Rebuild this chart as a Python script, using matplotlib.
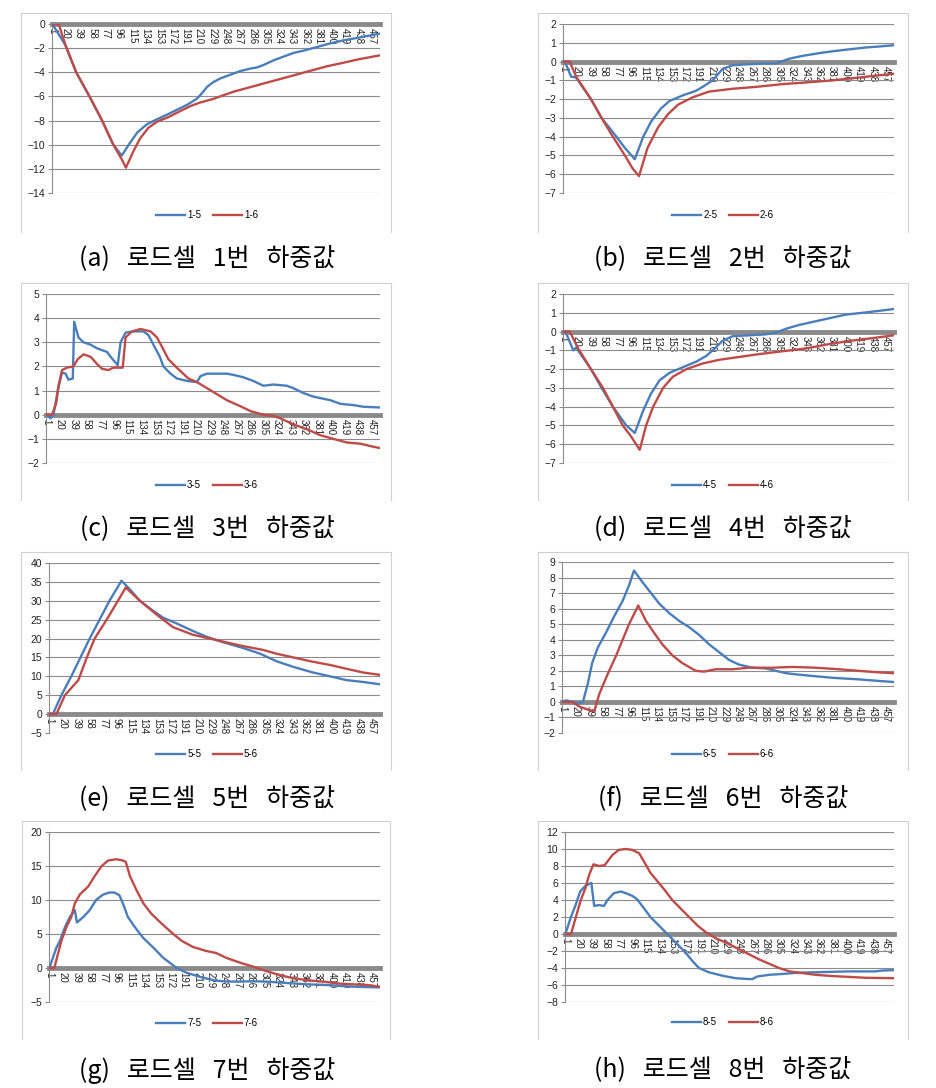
import matplotlib
matplotlib.use("Agg")
import matplotlib.pyplot as plt
from matplotlib.lines import Line2D

plt.rcParams["font.family"] = ["Liberation Sans", "DejaVu Sans"]

W, H = 936, 1088
BLUE = "#4a7ebb"
RED = "#be4b48"
GRID = "#8c8c8c"
FRAME = "#d0d0d0"
KFONT = ["Noto Sans CJK KR", "DejaVu Sans"]

# sample index, one tick label every 19 samples
XTICKS = list(range(1, 458, 19))

# load cell 1
a_x5 = [1, 17, 20, 35, 54, 72, 88, 100, 110, 122, 136, 150, 165, 179, 193, 207, 212, 222, 231, 241,
        255, 269, 283, 293, 302, 317, 331, 345, 360, 379, 398, 417, 436, 450, 468]
a_y5 = [0, -1.5, -1.8, -4, -6, -8, -10, -10.9, -10, -9, -8.3, -7.9, -7.5, -7.1, -6.7, -6.2, -5.9, -5.2, -4.8, -4.5,
        -4.2, -3.9, -3.7, -3.6, -3.4, -3.0, -2.7, -2.4, -2.2, -1.9, -1.6, -1.35, -1.15, -1.0, -0.8]
a_x6 = [1, 10, 20, 35, 54, 72, 88, 100, 106, 117, 126, 138, 150, 167, 184, 198, 212, 231, 245, 260,
        279, 298, 317, 336, 355, 374, 393, 417, 440, 468]
a_y6 = [0, 0, -1.8, -4, -6, -8, -10, -11.2, -11.9, -10.5, -9.5, -8.6, -8.1, -7.7, -7.2, -6.8, -6.5, -6.2, -5.9, -5.6,
        -5.3, -5.0, -4.7, -4.4, -4.1, -3.8, -3.5, -3.2, -2.9, -2.6]

# load cell 2
b_x5 = [1, 3, 12, 19, 40, 55, 76, 88, 102, 114, 125, 139, 151, 170, 189, 200, 212, 226, 240, 259,
        287, 302, 320, 339, 363, 382, 405, 429, 447, 468]
b_y5 = [0, 0, -0.8, -0.85, -2, -3, -4, -4.6, -5.2, -4.0, -3.2, -2.5, -2.1, -1.8, -1.55, -1.3, -1.0, -0.4, -0.2, -0.15,
        -0.1, -0.1, 0.15, 0.3, 0.45, 0.55, 0.65, 0.75, 0.8, 0.87]
b_x6 = [1, 10, 19, 40, 55, 71, 88, 99, 108, 120, 135, 149, 163, 184, 207, 240, 273, 311, 349, 382, 419, 443, 468]
b_y6 = [0, 0, -0.8, -2, -3, -4, -5, -5.7, -6.1, -4.6, -3.5, -2.8, -2.3, -1.9, -1.6, -1.45, -1.35, -1.2, -1.1, -1.0,
        -0.85, -0.75, -0.65]

# load cell 3
c_x5 = [1, 7, 11, 17, 23, 28, 32, 38, 40, 46, 53, 63, 72, 86, 91, 101, 105, 112, 123, 137,
        144, 151, 160, 165, 175, 184, 198, 212, 217, 226, 254, 263, 277, 291, 305, 319, 338, 347, 361, 375,
        399, 413, 431, 445, 468]
c_y5 = [0, -0.15, 0, 1.0, 1.75, 1.7, 1.45, 1.5, 3.85, 3.2, 3.0, 2.9, 2.75, 2.6, 2.4, 2.05, 3.0, 3.4, 3.45, 3.45,
        3.3, 2.9, 2.4, 2.0, 1.7, 1.5, 1.4, 1.35, 1.6, 1.7, 1.7, 1.65, 1.55, 1.4, 1.2, 1.25, 1.2, 1.1, 0.9, 0.75,
        0.6, 0.45, 0.4, 0.33, 0.3]
c_x6 = [1, 9, 15, 18, 23, 30, 39, 45, 53, 63, 72, 79, 88, 95, 108, 112, 121, 133, 147, 156,
        165, 172, 182, 191, 200, 212, 226, 240, 254, 273, 287, 305, 319, 329, 347, 366, 385, 403, 422, 441,
        455, 468]
c_y6 = [0, 0, 0.5, 1.2, 1.85, 1.95, 2.0, 2.3, 2.5, 2.4, 2.1, 1.9, 1.85, 1.95, 1.95, 3.2, 3.45, 3.55, 3.45, 3.2,
        2.7, 2.3, 2.0, 1.75, 1.5, 1.35, 1.1, 0.85, 0.6, 0.35, 0.15, 0.0, -0.05, -0.15, -0.4, -0.6, -0.85, -1.0,
        -1.15, -1.2, -1.3, -1.38]

# load cell 4
d_x5 = [1, 4, 15, 19, 40, 55, 71, 90, 102, 114, 125, 137, 151, 170, 189, 203, 215, 226, 240, 264,
        287, 302, 316, 334, 358, 382, 400, 424, 447, 468]
d_y5 = [0, 0, -1.0, -0.85, -2, -3, -4, -5, -5.4, -4.2, -3.3, -2.6, -2.2, -1.9, -1.6, -1.3, -0.9, -0.5, -0.25, -0.2,
        -0.15, -0.05, 0.15, 0.35, 0.55, 0.75, 0.9, 1.0, 1.1, 1.2]
d_x6 = [1, 10, 22, 40, 57, 71, 85, 97, 109, 118, 128, 142, 156, 175, 198, 222, 250, 278, 311, 344,
        372, 405, 438, 468]
d_y6 = [0, 0, -0.9, -2, -3, -4, -5, -5.6, -6.3, -5.0, -4.0, -3.0, -2.4, -2.0, -1.7, -1.5, -1.35, -1.2, -1.05, -0.9,
        -0.7, -0.5, -0.35, -0.2]

# load cell 5
e_x5 = [1, 6, 18, 32, 45, 58, 72, 86, 103, 115, 129, 143, 162, 181, 204, 223, 247, 275, 299, 322,
        346, 374, 398, 421, 445, 468]
e_y5 = [0, 0, 5, 10, 15, 20, 25, 30, 35.3, 33, 30, 28, 25.5, 24, 22, 20.5, 19, 17.5, 16, 14,
        12.5, 11, 10, 9, 8.5, 7.9]
e_x6 = [1, 11, 23, 42, 54, 65, 82, 98, 109, 129, 155, 176, 204, 228, 251, 275, 303, 322, 346, 370,
        398, 421, 445, 468]
e_y6 = [0, 0, 5, 9, 15, 20, 25, 30, 33.5, 30, 26, 23, 21, 20, 19, 18, 17, 16, 15, 14, 13, 12, 11, 10.4]

# load cell 6
f_x5 = [1, 6, 16, 25, 30, 37, 43, 51, 63, 74, 86, 95, 102, 114, 126, 138, 152, 166, 180, 194,
        208, 222, 236, 250, 269, 288, 302, 316, 335, 358, 382, 419, 447, 468]
f_y5 = [0, 0.1, 0, -0.1, 0, 1.2, 2.5, 3.5, 4.5, 5.5, 6.5, 7.5, 8.45, 7.7, 7.0, 6.3, 5.7, 5.2, 4.8, 4.3,
        3.7, 3.2, 2.7, 2.4, 2.2, 2.15, 2.0, 1.85, 1.75, 1.65, 1.55, 1.45, 1.35, 1.28]
f_x6 = [1, 15, 25, 37, 46, 53, 65, 77, 86, 95, 108, 119, 131, 142, 156, 170, 189, 201, 217, 241,
        264, 297, 325, 358, 391, 419, 447, 468]
f_y6 = [0, 0, -0.3, -0.5, -0.6, 0.5, 1.8, 3.0, 4.0, 5.0, 6.2, 5.2, 4.4, 3.7, 3.0, 2.5, 2.0, 1.95, 2.1, 2.1,
        2.2, 2.2, 2.25, 2.2, 2.1, 2.0, 1.9, 1.85]

# load cell 7
g_x5 = [1, 6, 11, 16, 23, 30, 37, 40, 49, 58, 67, 77, 86, 93, 100, 105, 112, 122, 133, 148,
        162, 181, 195, 214, 233, 251, 270, 289, 308, 336, 365, 393, 421, 445, 468]
g_y5 = [0, 1.5, 3, 4, 6, 7.5, 8.5, 6.7, 7.5, 8.5, 10, 10.8, 11.1, 11.1, 10.7, 9.5, 7.5, 6.0, 4.5, 3.0,
        1.5, 0, -0.7, -1.3, -1.8, -2.0, -2.0, -1.95, -2.0, -2.2, -2.4, -2.5, -2.7, -2.8, -2.85]
g_x6 = [1, 8, 13, 18, 25, 32, 37, 44, 51, 56, 65, 75, 84, 96, 105, 109, 115, 124, 134, 145,
        160, 174, 188, 204, 223, 237, 251, 270, 289, 303, 322, 341, 365, 388, 412, 431, 450, 468]
g_y6 = [0, 0, 2, 4, 6, 7.5, 9.5, 10.8, 11.5, 12, 13.5, 15, 15.8, 16, 15.8, 15.6, 13.5, 11.5, 9.5, 8,
        6.5, 5.2, 4.0, 3.1, 2.5, 2.2, 1.5, 0.8, 0.2, -0.3, -0.9, -1.4, -1.8, -2.0, -2.3, -2.4, -2.5, -2.75]

# load cell 8
h_x5 = [1, 9, 16, 22, 30, 38, 42, 49, 56, 61, 70, 80, 87, 96, 103, 113, 122, 134, 146, 158,
        172, 182, 191, 205, 224, 243, 262, 267, 274, 291, 310, 333, 357, 381, 405, 442, 452, 468]
h_y5 = [0, 2, 3.5, 5, 5.7, 6.0, 3.3, 3.4, 3.3, 4.0, 4.8, 5.0, 4.8, 4.5, 4.1, 3.0, 2.0, 1.0, 0.0, -1.0,
        -2.2, -3.2, -4.0, -4.5, -4.9, -5.2, -5.3, -5.3, -5.0, -4.8, -4.7, -4.55, -4.5, -4.45, -4.4, -4.4, -4.3, -4.25]
h_x6 = [1, 9, 16, 23, 30, 35, 41, 49, 57, 68, 77, 87, 96, 106, 113, 122, 134, 144, 153, 165,
        177, 189, 201, 215, 229, 241, 253, 265, 277, 291, 305, 320, 338, 357, 381, 405, 428, 468]
h_y6 = [0, 0, 2, 4, 5.5, 7, 8.2, 8.0, 8.1, 9.3, 9.9, 10, 9.9, 9.5, 8.5, 7.2, 6.0, 5.0, 4.0, 3.0,
        2.0, 1.0, 0.2, -0.5, -1.0, -1.5, -2.0, -2.5, -3.0, -3.5, -4.0, -4.4, -4.6, -4.8, -4.95, -5.05, -5.15, -5.2]

YTICKS = [
    list(range(-14, 1, 2)),
    list(range(-7, 3)),
    list(range(-2, 6)),
    list(range(-7, 3)),
    list(range(-5, 41, 5)),
    list(range(-2, 10)),
    list(range(-5, 21, 5)),
    list(range(-8, 13, 2)),
]
SERIES = [
    (a_x5, a_y5, a_x6, a_y6),
    (b_x5, b_y5, b_x6, b_y6),
    (c_x5, c_y5, c_x6, c_y6),
    (d_x5, d_y5, d_x6, d_y6),
    (e_x5, e_y5, e_x6, e_y6),
    (f_x5, f_y5, f_x6, f_y6),
    (g_x5, g_y5, g_x6, g_y6),
    (h_x5, h_y5, h_x6, h_y6),
]
LETTERS = "abcdefgh"

# layout in pixels: plot area (l, t, r, b), frame (l, t, r, b), legend y, caption y
PLOT = [
    (52, 24, 380, 193), (563, 24, 894, 193),
    (46, 294, 380, 463), (563, 294, 894, 463),
    (49, 563, 380, 733), (562, 562, 894, 733),
    (49, 832, 380, 1002), (565, 832, 894, 1002),
]
FRAMES = [
    (21, 13, 391, 232), (538, 13, 908, 232),
    (21, 283, 391, 500), (538, 283, 908, 500),
    (21, 552, 391, 770), (538, 552, 908, 770),
    (22, 821, 390, 1039), (538, 821, 908, 1039),
]
LEG_Y = [215, 215, 485, 485, 754, 754, 1023, 1022]
CAP_Y = [258, 258, 528, 528, 798, 798, 1070, 1069]
COL_X = [207, 723]

fig = plt.figure(figsize=(W / 100, H / 100), dpi=100)


def fx(px):
    return px / W


def fy(py):
    return 1 - py / H


for i in range(8):
    l, t, r, b = PLOT[i]
    ax = fig.add_axes([fx(l), fy(b), (r - l) / W, (b - t) / H])
    x5, y5, x6, y6 = SERIES[i]
    n = i + 1
    ax.plot(x5, y5, color=BLUE, lw=1.7, label=f"{n}-5", zorder=3)
    ax.plot(x6, y6, color=RED, lw=1.7, label=f"{n}-6", zorder=3)

    ax.set_xlim(0.5, 468.5)
    yt = YTICKS[i]
    ax.set_ylim(yt[0], yt[-1])
    ax.set_yticks(yt)
    ax.yaxis.grid(True, color=GRID, lw=0.8)
    ax.set_axisbelow(True)

    ax.spines["top"].set_visible(False)
    ax.spines["right"].set_visible(False)
    ax.spines["left"].set_color(GRID)
    ax.spines["left"].set_linewidth(0.8)
    ax.spines["bottom"].set_position(("data", 0))
    ax.spines["bottom"].set_color("#8a8a8a")
    ax.spines["bottom"].set_linewidth(3.5)

    ax.set_xticks(XTICKS)
    ax.set_xticklabels([str(v) for v in XTICKS], rotation=270, fontsize=7, va="top", ha="center")
    ax.tick_params(axis="x", length=0, pad=3, colors="#222222")
    ax.tick_params(axis="y", length=3, color=GRID, labelsize=7.5, pad=2, labelcolor="#222222")

    col = COL_X[i % 2]
    ax.legend(loc="center", bbox_to_anchor=(fx(col), fy(LEG_Y[i])), bbox_transform=fig.transFigure,
              ncol=2, frameon=False, fontsize=7, handlelength=3.0, handletextpad=0.2,
              columnspacing=1.2, borderaxespad=0)

    fl, ft, fr, fb = FRAMES[i]
    fig.add_artist(Line2D([fx(fl), fx(fl), fx(fr), fx(fr)], [fy(fb), fy(ft), fy(ft), fy(fb)],
                          color=FRAME, lw=0.8))

    fig.text(fx(col), fy(CAP_Y[i]), f"({LETTERS[i]})   로드셀   {n}번   하중값", ha="center", va="center",
             fontsize=18, family=KFONT)

fig.savefig("out.png", dpi=100)
